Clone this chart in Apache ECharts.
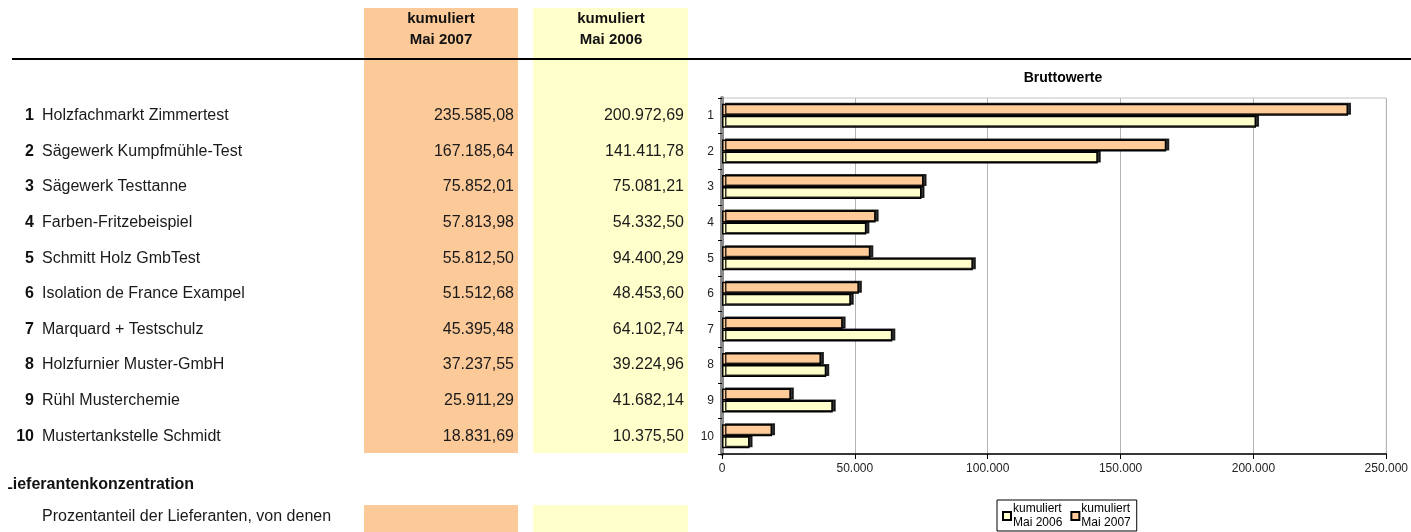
<!DOCTYPE html>
<html>
<head>
<meta charset="utf-8">
<script src="https://cdn.jsdelivr.net/npm/echarts@6/dist/echarts.min.js"></script>
<style>
html,body{margin:0;padding:0;background:#fff;}
#main{width:1411px;height:532px;}
</style>
</head>
<body>
<div id="main"></div>
<script>
const ranks = ['1','2','3','4','5','6','7','8','9','10'];
const names = ['Holzfachmarkt Zimmertest','Sägewerk Kumpfmühle-Test','Sägewerk Testtanne','Farben-Fritzebeispiel','Schmitt Holz GmbTest','Isolation de France Exampel','Marquard + Testschulz','Holzfurnier Muster-GmbH','Rühl Musterchemie','Mustertankstelle Schmidt'];
const mai2007 = [235585.08, 167185.64, 75852.01, 57813.98, 55812.50, 51512.68, 45395.48, 37237.55, 25911.29, 18831.69];
const mai2006 = [200972.69, 141411.78, 75081.21, 54332.50, 94400.29, 48453.60, 64102.74, 39224.96, 41682.14, 10375.50];
const seriesNames = ['kumuliert\nMai 2007', 'kumuliert\nMai 2006'];
const xTicks = {min: 0, max: 250000, interval: 50000};

function de(v, d) {
  const s = v.toFixed(d);
  const parts = s.split('.');
  const i = parts[0].replace(/\B(?=(\d{3})+(?!\d))/g, '.');
  return parts[1] ? i + ',' + parts[1] : i;
}

const FONT = '"Liberation Sans", Arial, sans-serif';
const ORANGE = '#FFCC99';
const YELLOW = '#FFFFCC';
const TOP = 98, H = 356;

function tableAxis(gridIndex, data, opts) {
  return Object.assign({
    type: 'category', gridIndex: gridIndex, inverse: true, data: data,
    axisLine: {show: false}, axisTick: {show: false}, splitLine: {show: false},
    axisLabel: {interval: 0, margin: 1, fontFamily: FONT, fontSize: 16, color: '#1a1a1a'}
  }, opts);
}

const barStyle = (c) => ({color: c, borderColor: '#000', borderWidth: 1.5, shadowColor: 'rgba(0,0,0,0.8)', shadowOffsetX: 3, shadowOffsetY: -1, shadowBlur: 0});

const chart = echarts.init(document.getElementById('main'), null, {renderer: 'canvas'});
const option = {
  backgroundColor: '#ffffff',
  animation: false,
  title: {
    text: 'Bruttowerte', left: 1058, top: 66, textAlign: 'center',
    textStyle: {fontFamily: FONT, fontSize: 14, fontWeight: 'bold', color: '#000'}
  },
  legend: {
    data: [seriesNames[1], seriesNames[0]],
    left: 997, top: 500, orient: 'horizontal',
    borderColor: '#000', borderWidth: 1, padding: [2, 6, 1, 5],
    itemWidth: 8, itemHeight: 8, itemGap: 8, icon: 'rect',
    textStyle: {fontFamily: FONT, fontSize: 12, color: '#000', lineHeight: 14, padding: [0, 0, 0, -3]}
  },
  grid: [
    {left: 722, top: TOP, width: 667, height: H, show: true, borderColor: '#c0c0c0', borderWidth: 1, containLabel: false},
    {left: 35, top: TOP, width: 1, height: H},
    {left: 40, top: TOP, width: 1, height: H},
    {left: 515, top: TOP, width: 1, height: H},
    {left: 685, top: TOP, width: 1, height: H}
  ],
  xAxis: [
    {type: 'value', gridIndex: 0, min: xTicks.min, max: xTicks.max, interval: xTicks.interval,
     axisLine: {show: true, lineStyle: {color: '#000', width: 1.5}},
     axisTick: {show: true, length: 5, lineStyle: {color: '#000'}},
     splitLine: {show: true, lineStyle: {color: '#b4b4b4', width: 1}},
     axisLabel: {fontFamily: FONT, fontSize: 12, color: '#222', margin: 9, formatter: v => de(v, 0)}},
    {type: 'value', gridIndex: 1, show: false},
    {type: 'value', gridIndex: 2, show: false},
    {type: 'value', gridIndex: 3, show: false},
    {type: 'value', gridIndex: 4, show: false}
  ],
  yAxis: [
    {type: 'category', gridIndex: 0, inverse: true, data: ranks,
     axisLine: {show: true, lineStyle: {color: '#8a8a8a', width: 4}},
     axisTick: {show: true, length: 4, lineStyle: {color: '#000'}},
     splitLine: {show: false},
     axisLabel: {interval: 0, fontFamily: FONT, fontSize: 12, color: '#222', margin: 8}},
    tableAxis(1, ranks, {axisLabel: {interval: 0, margin: 1, fontFamily: FONT, fontSize: 16, fontWeight: 'bold', color: '#111'}}),
    tableAxis(2, names, {position: 'right'}),
    tableAxis(3, mai2007.map(v => de(v, 2))),
    tableAxis(4, mai2006.map(v => de(v, 2)))
  ],
  series: [
    {name: seriesNames[0], type: 'bar', xAxisIndex: 0, yAxisIndex: 0, data: mai2007,
     barWidth: 12, barGap: '0%', itemStyle: barStyle(ORANGE)},
    {name: seriesNames[1], type: 'bar', xAxisIndex: 0, yAxisIndex: 0, data: mai2006,
     barWidth: 12, barGap: '0%', itemStyle: barStyle(YELLOW)}
  ],
  graphic: [
    {type: 'rect', z: -10, shape: {x: 364, y: 8, width: 154, height: 445}, style: {fill: '#FCC999'}},
    {type: 'rect', z: -10, shape: {x: 533, y: 8, width: 155, height: 445}, style: {fill: YELLOW}},
    {type: 'rect', z: -10, shape: {x: 364, y: 505, width: 154, height: 30}, style: {fill: '#FCC999'}},
    {type: 'rect', z: -10, shape: {x: 533, y: 505, width: 155, height: 30}, style: {fill: YELLOW}},
    {type: 'line', z: 5, shape: {x1: 12, y1: 59, x2: 1411, y2: 59}, style: {stroke: '#000', lineWidth: 2}},
    {type: 'text', z: 5, x: 441, y: 8, style: {text: 'kumuliert\nMai 2007', font: 'bold 15px ' + FONT, fill: '#111', textAlign: 'center', lineHeight: 21}},
    {type: 'text', z: 5, x: 611, y: 8, style: {text: 'kumuliert\nMai 2006', font: 'bold 15px ' + FONT, fill: '#111', textAlign: 'center', lineHeight: 21}},
    {type: 'text', z: 5, x: 3, y: 477, style: {text: 'Lieferantenkonzentration', font: 'bold 16px ' + FONT, fill: '#111'}},
    {type: 'rect', z: 6, shape: {x: 0, y: 470, width: 8, height: 30}, style: {fill: '#fff'}},
    {type: 'text', z: 5, x: 42, y: 505, style: {text: 'Prozentanteil der Lieferanten, von denen\n80% des Lieferumsatzes bezogen wird', font: '16px ' + FONT, fill: '#1a1a1a', lineHeight: 23}}
  ]
};
chart.setOption(option);
</script>
</body>
</html>
